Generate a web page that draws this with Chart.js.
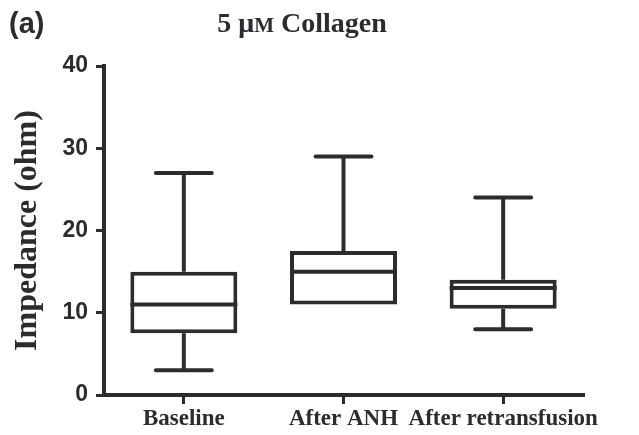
<!DOCTYPE html>
<html>
<head>
<meta charset="utf-8">
<script src="https://cdn.jsdelivr.net/npm/chart.js@4/dist/chart.umd.min.js"></script>
<style>
  html, body { margin: 0; padding: 0; background: #ffffff; }
  #wrap { width: 639px; height: 435px; position: relative; }
</style>
</head>
<body>
<div id="wrap"><canvas id="c" width="639" height="435"></canvas></div>
<script>
// ---- data ----
const categories = ['Baseline', 'After ANH', 'After retransfusion'];
const whiskerMin = [3, 11, 8];
const quartile1  = [7.5, 11, 10.5];
const medians    = [11, 15, 13];
const quartile3  = [15, 17.5, 14];
const whiskerMax = [27, 29, 24];
const yTicks     = [0, 10, 20, 30, 40];

const INK = '#2b2b30';
const SERIF = '"Liberation Serif", "Times New Roman", serif';
const SANS = '"Liberation Sans", Arial, sans-serif';

const boxData = categories.map((_, i) => [quartile1[i], quartile3[i]]);

const boxPlugin = {
  id: 'boxWhiskers',
  afterDatasetsDraw(chart) {
    const ctx = chart.ctx;
    const xs = chart.scales.x, ys = chart.scales.y;
    const meta = chart.getDatasetMeta(0);
    ctx.save();
    ctx.strokeStyle = INK;
    categories.forEach((c, i) => {
      const bar = meta.data[i];
      const cx = xs.getPixelForValue(i);
      const half = bar.width / 2;
      const capHalf = (xs.width / categories.length) * 0.175;
      const yMin = ys.getPixelForValue(whiskerMin[i]);
      const yQ1 = ys.getPixelForValue(quartile1[i]);
      const yMed = ys.getPixelForValue(medians[i]);
      const yQ3 = ys.getPixelForValue(quartile3[i]);
      const yMax = ys.getPixelForValue(whiskerMax[i]);
      ctx.lineWidth = 4;
      ctx.lineCap = 'butt';
      ctx.beginPath();
      ctx.moveTo(cx - half, yMed);
      ctx.lineTo(cx + half, yMed);
      ctx.stroke();
      ctx.beginPath();
      ctx.moveTo(cx, yQ3);
      ctx.lineTo(cx, yMax);
      if (whiskerMin[i] < quartile1[i]) {
        ctx.moveTo(cx, yQ1);
        ctx.lineTo(cx, yMin);
      }
      ctx.stroke();
      ctx.lineCap = 'round';
      ctx.beginPath();
      ctx.moveTo(cx - capHalf, yMax);
      ctx.lineTo(cx + capHalf, yMax);
      if (whiskerMin[i] < quartile1[i]) {
        ctx.moveTo(cx - capHalf, yMin);
        ctx.lineTo(cx + capHalf, yMin);
      }
      ctx.stroke();
    });
    ctx.restore();
  },
  afterDraw(chart) {
    const ctx = chart.ctx;
    ctx.save();
    ctx.fillStyle = INK;
    ctx.textBaseline = 'alphabetic';
    ctx.font = 'bold 29px ' + SANS;
    ctx.textAlign = 'left';
    ctx.fillText('(a)', 9, 33);
    const big = 'bold 28px ' + SERIF;
    const small = 'bold 21px ' + SERIF;
    const p1 = '5 μ', p2 = 'M', p3 = ' Collagen';
    ctx.font = big; const w1 = ctx.measureText(p1).width; const w3 = ctx.measureText(p3).width;
    ctx.font = small; const w2 = ctx.measureText(p2).width;
    let x = 302 - (w1 + w2 + w3) / 2;
    ctx.font = big; ctx.fillText(p1, x, 32); x += w1;
    ctx.font = small; ctx.fillText(p2, x, 32); x += w2;
    ctx.font = big; ctx.fillText(p3, x, 32);
    ctx.restore();
  }
};

new Chart(document.getElementById('c'), {
  type: 'bar',
  data: {
    labels: categories,
    datasets: [{
      data: boxData,
      backgroundColor: '#ffffff',
      borderColor: INK,
      borderWidth: 4,
      borderSkipped: false,
      barPercentage: 0.67,
      categoryPercentage: 1.0
    }]
  },
  options: {
    responsive: false,
    animation: false,
    devicePixelRatio: 1,
    layout: { padding: { top: 66, right: 56, bottom: 0, left: 0 } },
    plugins: { legend: { display: false }, tooltip: { enabled: false }, title: { display: false } },
    scales: {
      x: {
        offset: true,
        grid: { display: true, offset: false, drawOnChartArea: false, drawTicks: true, tickLength: 9, lineWidth: 3, color: INK },
        border: { display: true, color: INK, width: 4 },
        ticks: { color: INK, font: { family: SERIF, size: 23, weight: 'bold' }, padding: 1, maxRotation: 0, autoSkip: false },
        afterFit(s) { s.height = 40; }
      },
      y: {
        min: 0, max: 40,
        afterBuildTicks(s) { s.ticks = yTicks.map(v => ({ value: v })); },
        grid: { display: true, drawOnChartArea: false, drawTicks: true, tickLength: 8, lineWidth: 3, color: INK },
        border: { display: true, color: INK, width: 4 },
        ticks: { color: INK, font: { family: SANS, size: 23, weight: 'bold' }, padding: 8 },
        title: {
          display: true, text: 'Impedance (ohm)', color: INK,
          font: { family: SERIF, size: 32, weight: 'bold' },
          padding: { top: 9, bottom: 0 }
        },
        afterFit(s) { s.width = 104; }
      }
    }
  },
  plugins: [boxPlugin]
});
</script>
</body>
</html>
